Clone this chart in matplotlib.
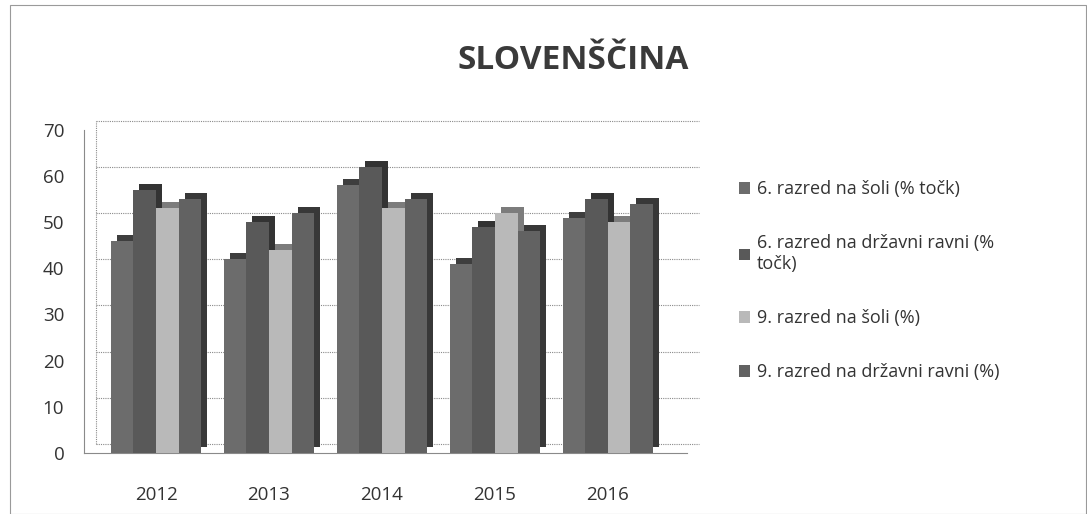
import matplotlib
matplotlib.use("Agg")
import matplotlib.pyplot as plt
import matplotlib.transforms as mtransforms
from matplotlib.patches import Rectangle, Patch
import numpy as np

plt.rcParams["font.family"] = ["Open Sans", "DejaVu Sans"]

# ---- data ----
years = ["2012", "2013", "2014", "2015", "2016"]
sestih_sola = [46, 42, 58, 41, 51]        # 6. razred na šoli (% točk)
sestih_drzava = [57, 50, 62, 49, 55]      # 6. razred na državni ravni (% točk)
devetih_sola = [53, 44, 53, 52, 50]       # 9. razred na šoli (%)
devetih_drzava = [55, 52, 55, 48, 54]     # 9. razred na državni ravni (%)
series_labels = [
    "6. razred na šoli (% točk)",
    "6. razred na državni ravni (%\ntočk)",
    "9. razred na šoli (%)",
    "9. razred na državni ravni (%)",
]
yticks = [0, 10, 20, 30, 40, 50, 60, 70]

series = [sestih_sola, sestih_drzava, devetih_sola, devetih_drzava]
face = ["#6c6c6c", "#595959", "#b9b9b9", "#626262"]
side = ["#3e3e3e", "#333333", "#7c7c7c", "#383838"]

fig = plt.figure(figsize=(10.87, 5.14), dpi=100)
ax = fig.add_axes([0.077, 0.119, 0.555, 0.628])
ax.set_xlim(-0.64, 4.7)
ax.set_ylim(0, 70)

# depth offset for the pseudo-3D look
depth = mtransforms.ScaledTranslation(6 / 100, 6 / 100, fig.dpi_scale_trans)
back = mtransforms.ScaledTranslation(12 / 100, 9 / 100, fig.dpi_scale_trans)

# back wall gridlines (dotted)
for t in yticks:
    ax.plot([-0.64, 4.7], [t, t], color="#8a8a8a", lw=0.8, ls=(0, (1, 1)),
            transform=ax.transData + back, zorder=1, clip_on=False)
ax.plot([-0.64, -0.64], [0, 70], color="#8a8a8a", lw=0.8, ls=(0, (1, 1)),
        transform=ax.transData + back, zorder=1, clip_on=False)

x = np.arange(len(years))
w = 0.2
for i, vals in enumerate(series):
    pos = x - 0.3 + i * w
    ax.bar(pos, vals, width=w, color=side[i], edgecolor="none",
           transform=ax.transData + depth, zorder=2 + i * 0.1)
    ax.bar(pos, vals, width=w, color=face[i], edgecolor="none", zorder=3 + i * 0.1)

for s in ["top", "right"]:
    ax.spines[s].set_visible(False)
ax.spines["left"].set_color("#8a8a8a")
ax.spines["left"].set_linestyle((0, (1, 1)))
ax.spines["bottom"].set_color("#8a8a8a")
ax.spines["bottom"].set_linestyle((0, (1, 1)))

ax.set_yticks(yticks)
ax.set_xticks(x)
ax.set_xticklabels(years)
ax.tick_params(axis="both", length=0, labelsize=13.5, colors="#333333")
ax.tick_params(axis="y", pad=14)
ax.tick_params(axis="x", pad=24)

fig.text(0.527, 0.883, "SLOVENŠČINA", ha="center", va="center",
         fontsize=24, fontweight="bold", color="#3a3a3a")

handles = [Patch(facecolor=face[i], edgecolor="none") for i in range(4)]
fig.legend(handles, series_labels, loc="upper left", bbox_to_anchor=(0.665, 0.681),
           frameon=False, fontsize=13, handlelength=0.6, handleheight=0.6,
           handletextpad=0.4, labelspacing=2.0, labelcolor="#333333")

fig.patches.append(Rectangle((0.009, 0.0), 0.99, 0.99, transform=fig.transFigure,
                             fill=False, edgecolor="#9a9a9a", lw=0.8))

fig.savefig("out.png", dpi=100)
